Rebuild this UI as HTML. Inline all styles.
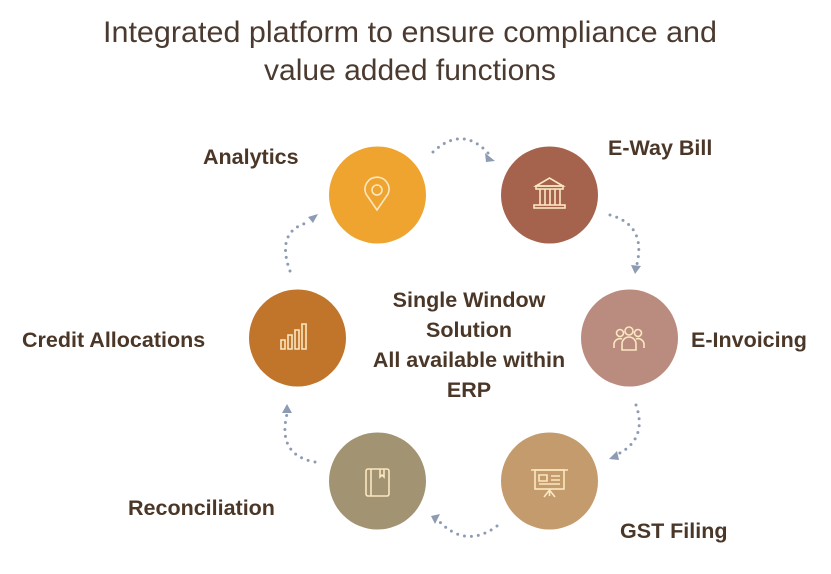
<!DOCTYPE html>
<html><head><meta charset="utf-8"><style>
body{margin:0;width:831px;height:569px;background:#fff;overflow:hidden;font-family:"Liberation Sans",sans-serif}
</style></head><body>
<svg width="831" height="569" xmlns="http://www.w3.org/2000/svg">
<g font-family="Liberation Sans, sans-serif" fill="#4b3a2f">
<text x="410" y="42" font-size="30" text-anchor="middle" textLength="614" lengthAdjust="spacingAndGlyphs">Integrated platform to ensure compliance and</text>
<text x="410" y="80" font-size="30" text-anchor="middle">value added functions</text>
</g>
<circle cx="377.5" cy="195" r="48.5" fill="#F0A430"/>
<circle cx="549.5" cy="195" r="48.5" fill="#A5634D"/>
<circle cx="629.5" cy="338" r="48.5" fill="#B98C7F"/>
<circle cx="549.5" cy="481" r="48.5" fill="#C39B6C"/>
<circle cx="377.5" cy="481" r="48.5" fill="#A29373"/>
<circle cx="297.5" cy="338" r="48.5" fill="#C0752B"/>
<g stroke="#FBE7C0" stroke-width="1.6" fill="none">
<path d="M377 210 L366 194 A12 12 0 1 1 388 194 Z"/><circle cx="377" cy="190" r="5"/>
<path d="M536 186 L549.5 178 L563 186 Z"/><rect x="536" y="186" width="27" height="3"/><rect x="534" y="205" width="31" height="3"/>
<path d="M540 189v16M545 189v16M550 189v16M555 189v16M560 189v16"/>
<circle cx="629" cy="331" r="4"/><path d="M622 350v-6a7 7 0 0 1 14 0v6z"/><circle cx="620" cy="333" r="3.5"/><circle cx="638" cy="333" r="3.5"/><path d="M614 348v-4a6 6 0 0 1 8-5M644 348v-4a6 6 0 0 0-8-5"/>
<rect x="535" y="470" width="29" height="19"/><path d="M531 470h37M549.5 489v7M544 497l5.5-7 5.5 7M539 475h8v6h-8zM551 476h9M551 480h9M539 484h21"/>
<rect x="366" y="469" width="23" height="27" rx="2"/><path d="M371 469v27M380 469v8l2-2 2 2v-8"/>
<path d="M281 349v-9h4v9zM288 349v-14h4v14zM295 349v-19h4v19zM302 349v-25h4v25z"/>
</g>
<g stroke="#8d9bb3" stroke-width="3" stroke-dasharray="0 7" stroke-linecap="round" fill="none">
<path d="M433 152 Q462 125 488 153"/>
<path d="M610 215 Q646 225 637 264"/>
<path d="M636 405 Q648 440 616 455"/>
<path d="M497 526 Q465 550 437 519"/>
<path d="M315 462 Q277 455 287 414"/>
<path d="M290 271 Q275 230 310 222"/>
</g>
<g fill="#8d9bb3">
<path d="M485 153 L495 161 L486 162 Z"/>
<path d="M631 265 L641 266 L635 274 Z"/>
<path d="M617 451 L619 460 L609 459 Z"/>
<path d="M440 514 L431 516 L435 524 Z"/>
<path d="M282 413 L292 413 L287 404 Z"/>
<path d="M308 217 L318 214 L313 223 Z"/>
</g>
<g font-family="Liberation Sans, sans-serif" font-weight="bold" font-size="21.5" fill="#4b3728">
<text x="203" y="164">Analytics</text>
<text x="608" y="155">E-Way Bill</text>
<text x="691" y="347">E-Invoicing</text>
<text x="620" y="538">GST Filing</text>
<text x="128" y="515">Reconciliation</text>
<text x="22" y="347">Credit Allocations</text>
<g text-anchor="middle">
<text x="469" y="307">Single Window</text>
<text x="469" y="337">Solution</text>
<text x="469" y="367">All available within</text>
<text x="469" y="397">ERP</text>
</g>
</g>
</svg>
</body></html>
